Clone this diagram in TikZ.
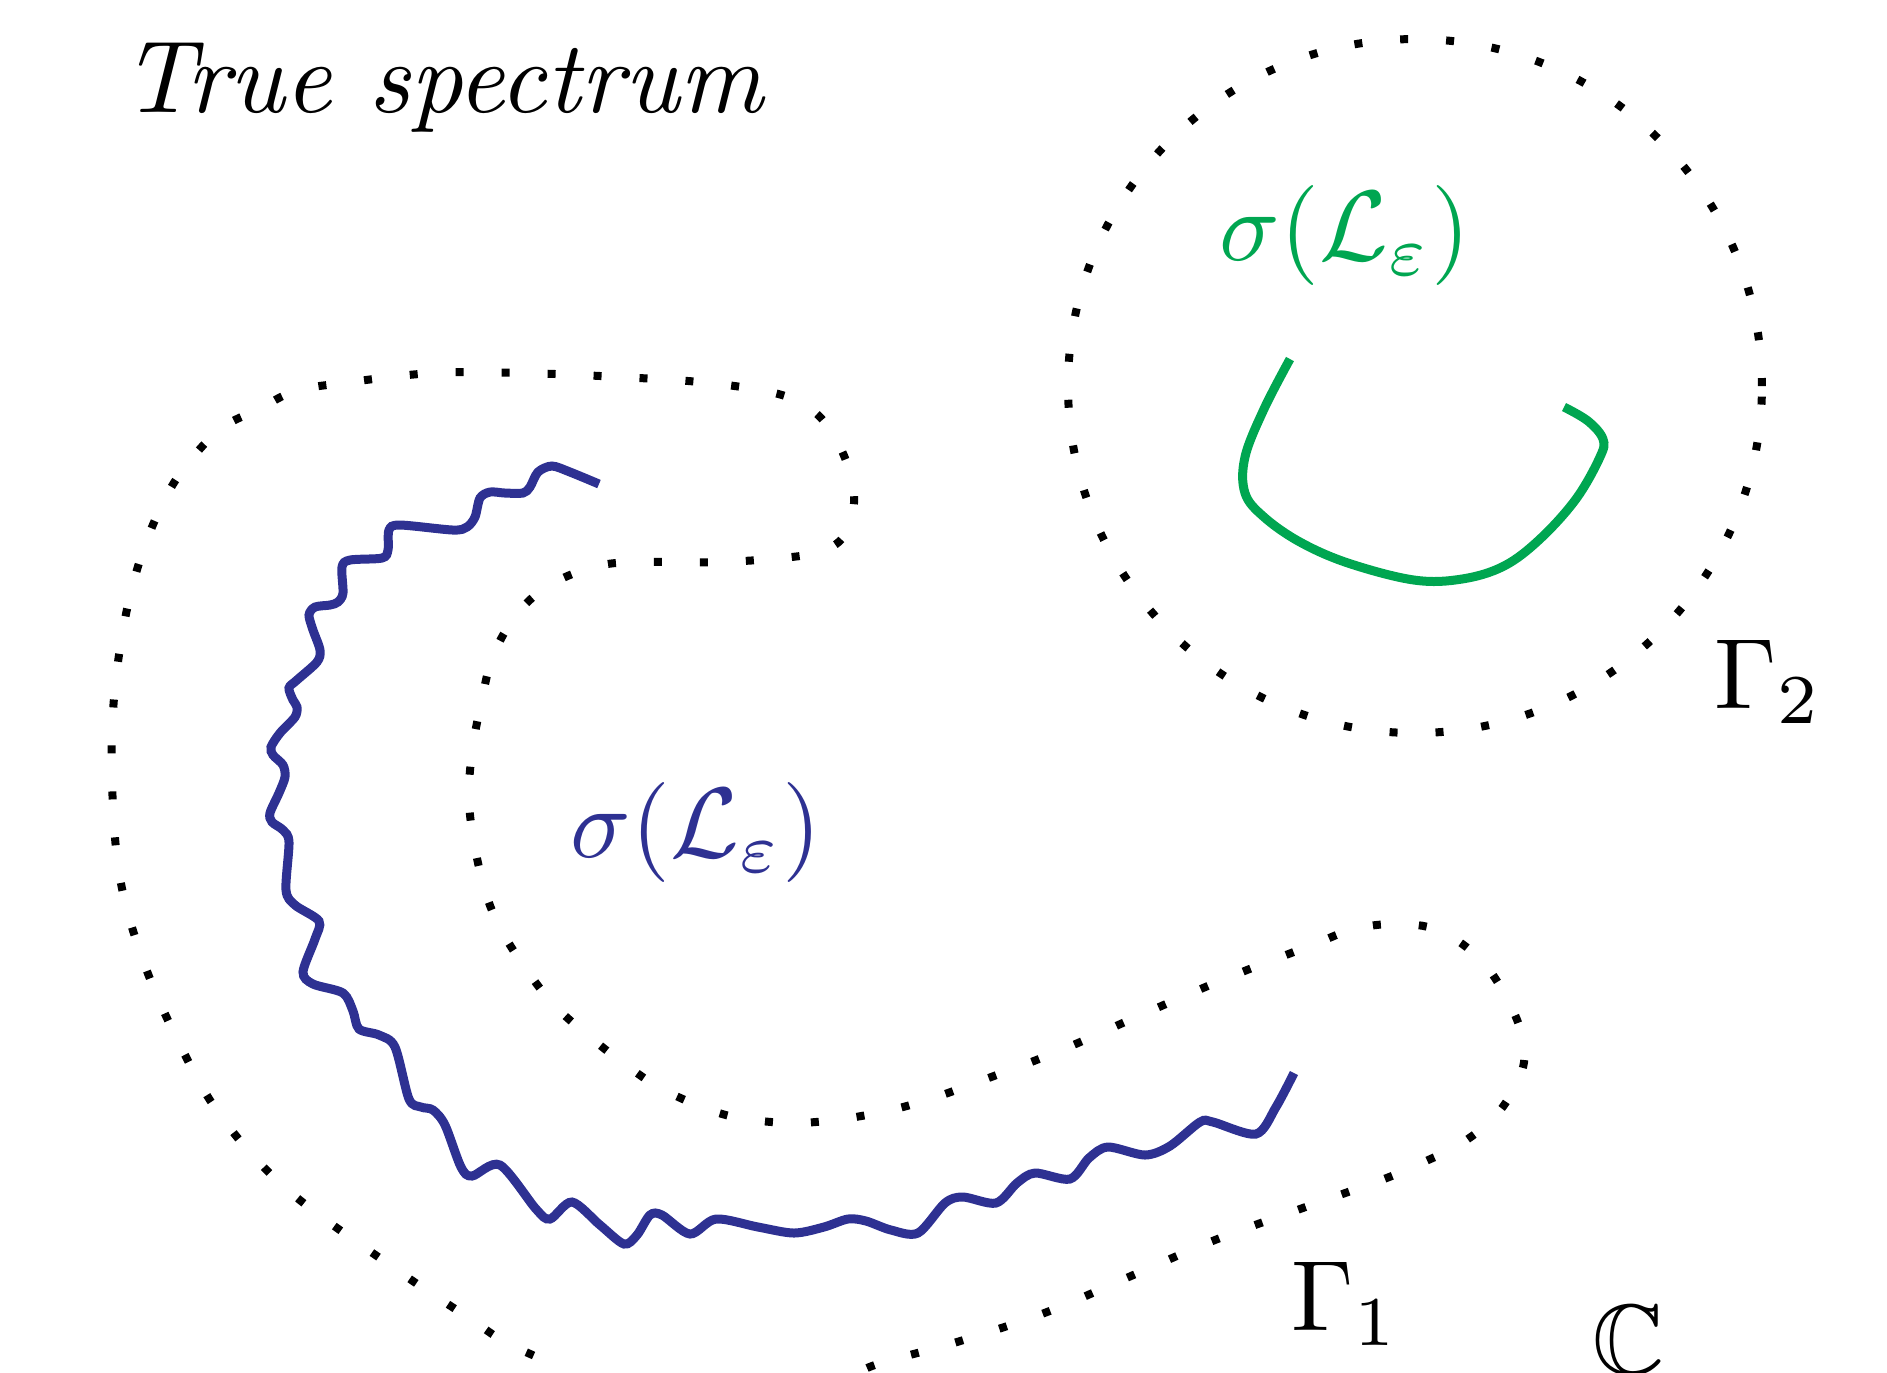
\documentclass[tikz,border=0pt]{standalone}
\usepackage{amssymb}
\definecolor{specblue}{RGB}{46,49,146}
\definecolor{specgreen}{RGB}{0,166,81}

\begin{document}
\begin{tikzpicture}[
x=0.1pt, y=-0.1pt,
contour/.style={line width=0.8pt, dash pattern=on 0.8pt off 3.8pt},
spec/.style={line width=0.9pt},
lbl/.style={inner sep=0pt, anchor=base west}
]
\useasboundingbox (0,0) rectangle (1887,1372);

% labels
\node[lbl, font=\fontsize{10.25}{12}\selectfont] (title) at (119,112) {\textit{True spectrum}};
\node[lbl, text=specgreen] (sigtwo) at (1218,260) {$\sigma(\mathcal{L}_\varepsilon)$};
\node[lbl, text=specblue] (sigone) at (569,857) {$\sigma(\mathcal{L}_\varepsilon)$};
\node[lbl] (gamtwo) at (1713,708) {$\Gamma_2$};
\node[lbl] (gamone) at (1290,1330) {$\Gamma_1$};
\node[lbl] (cplx) at (1591,1374) {$\mathbb{C}$};

% contour Gamma_1
\draw[contour] plot[smooth, tension=0.6] coordinates {
(566,1385) (554,1366) (505,1342) (469,1318) (397,1270) (289,1191) (223,1119)
(181,1047) (144,963) (120,878) (112,782) (114,698) (126,614) (144,548)
(168,493) (193,457) (223,427) (259,409) (295,391) (343,383) (433,373)
(523,373) (620,377) (710,383) (782,395) (818,415) (842,451) (854,493)
(848,529) (830,548) (800,556) (722,562) (632,562) (590,568) (548,586)
(517,614) (493,656) (481,704) (472,752) (469,800) (475,848) (487,897)
(503,933) (526,969) (554,1005) (590,1037) (626,1065) (662,1089) (710,1110)
(746,1119) (794,1123) (842,1119) (891,1110) (933,1098) (975,1083) (1059,1051)
(1143,1014) (1227,978) (1312,945) (1354,929) (1396,924) (1438,930) (1478,957)
(1504,993) (1522,1035) (1522,1071) (1498,1113) (1462,1143) (1426,1161)
(1384,1179) (1300,1209) (1215,1240) (1131,1276) (1047,1312) (957,1342)
(872,1366) (840,1385)};

% contour Gamma_2
\draw[contour] (1415,386) circle [radius=34.7pt];

% blue spectrum
\draw[spec, specblue] plot[smooth, tension=0.5] coordinates {
(599,484) (570,472) (552,466) (538,472) (530,487) (523,493) (505,493)
(490,492) (480,498) (475,517) (467,527) (453,530) (400,525) (389,530)
(388,550) (382,558) (350,560) (342,567) (343,593) (338,602) (330,605)
(315,607) (309,615) (313,630) (320,650) (317,662) (297,680) (289,688)
(293,700) (297,707) (295,717) (280,733) (271,747) (273,755) (283,765)
(285,777) (279,793) (270,813) (272,822) (283,830) (289,842) (286,890)
(295,905) (319,921) (315,939) (303,972) (313,984) (343,993) (353,1011)
(359,1029) (379,1035) (395,1047) (409,1099) (421,1107) (433,1110) (445,1125)
(461,1167) (472,1176) (500,1165) (536,1209) (550,1219) (572,1202)
(600,1225) (624,1244) (637,1235) (650,1215) (662,1215) (690,1234) (716,1219) (758,1227)
(794,1233) (824,1227) (848,1219) (866,1221) (891,1230) (918,1233)
(945,1203) (963,1197) (996,1203) (1017,1183) (1035,1173)
(1070,1179) (1089,1158) (1108,1147) (1145,1155)
(1170,1146) (1200,1122) (1213,1122) (1256,1134) (1276,1107)
(1294,1073)};

% green spectrum
\draw[spec, specgreen] plot[smooth, tension=0.6] coordinates {
(1290,359) (1264,409) (1245,457) (1245,493) (1264,517) (1300,542)
(1348,563) (1414,580) (1462,579) (1504,566) (1540,539) (1576,499)
(1600,457) (1603,439) (1588,421) (1564,407)};

\end{tikzpicture}
\end{document}
